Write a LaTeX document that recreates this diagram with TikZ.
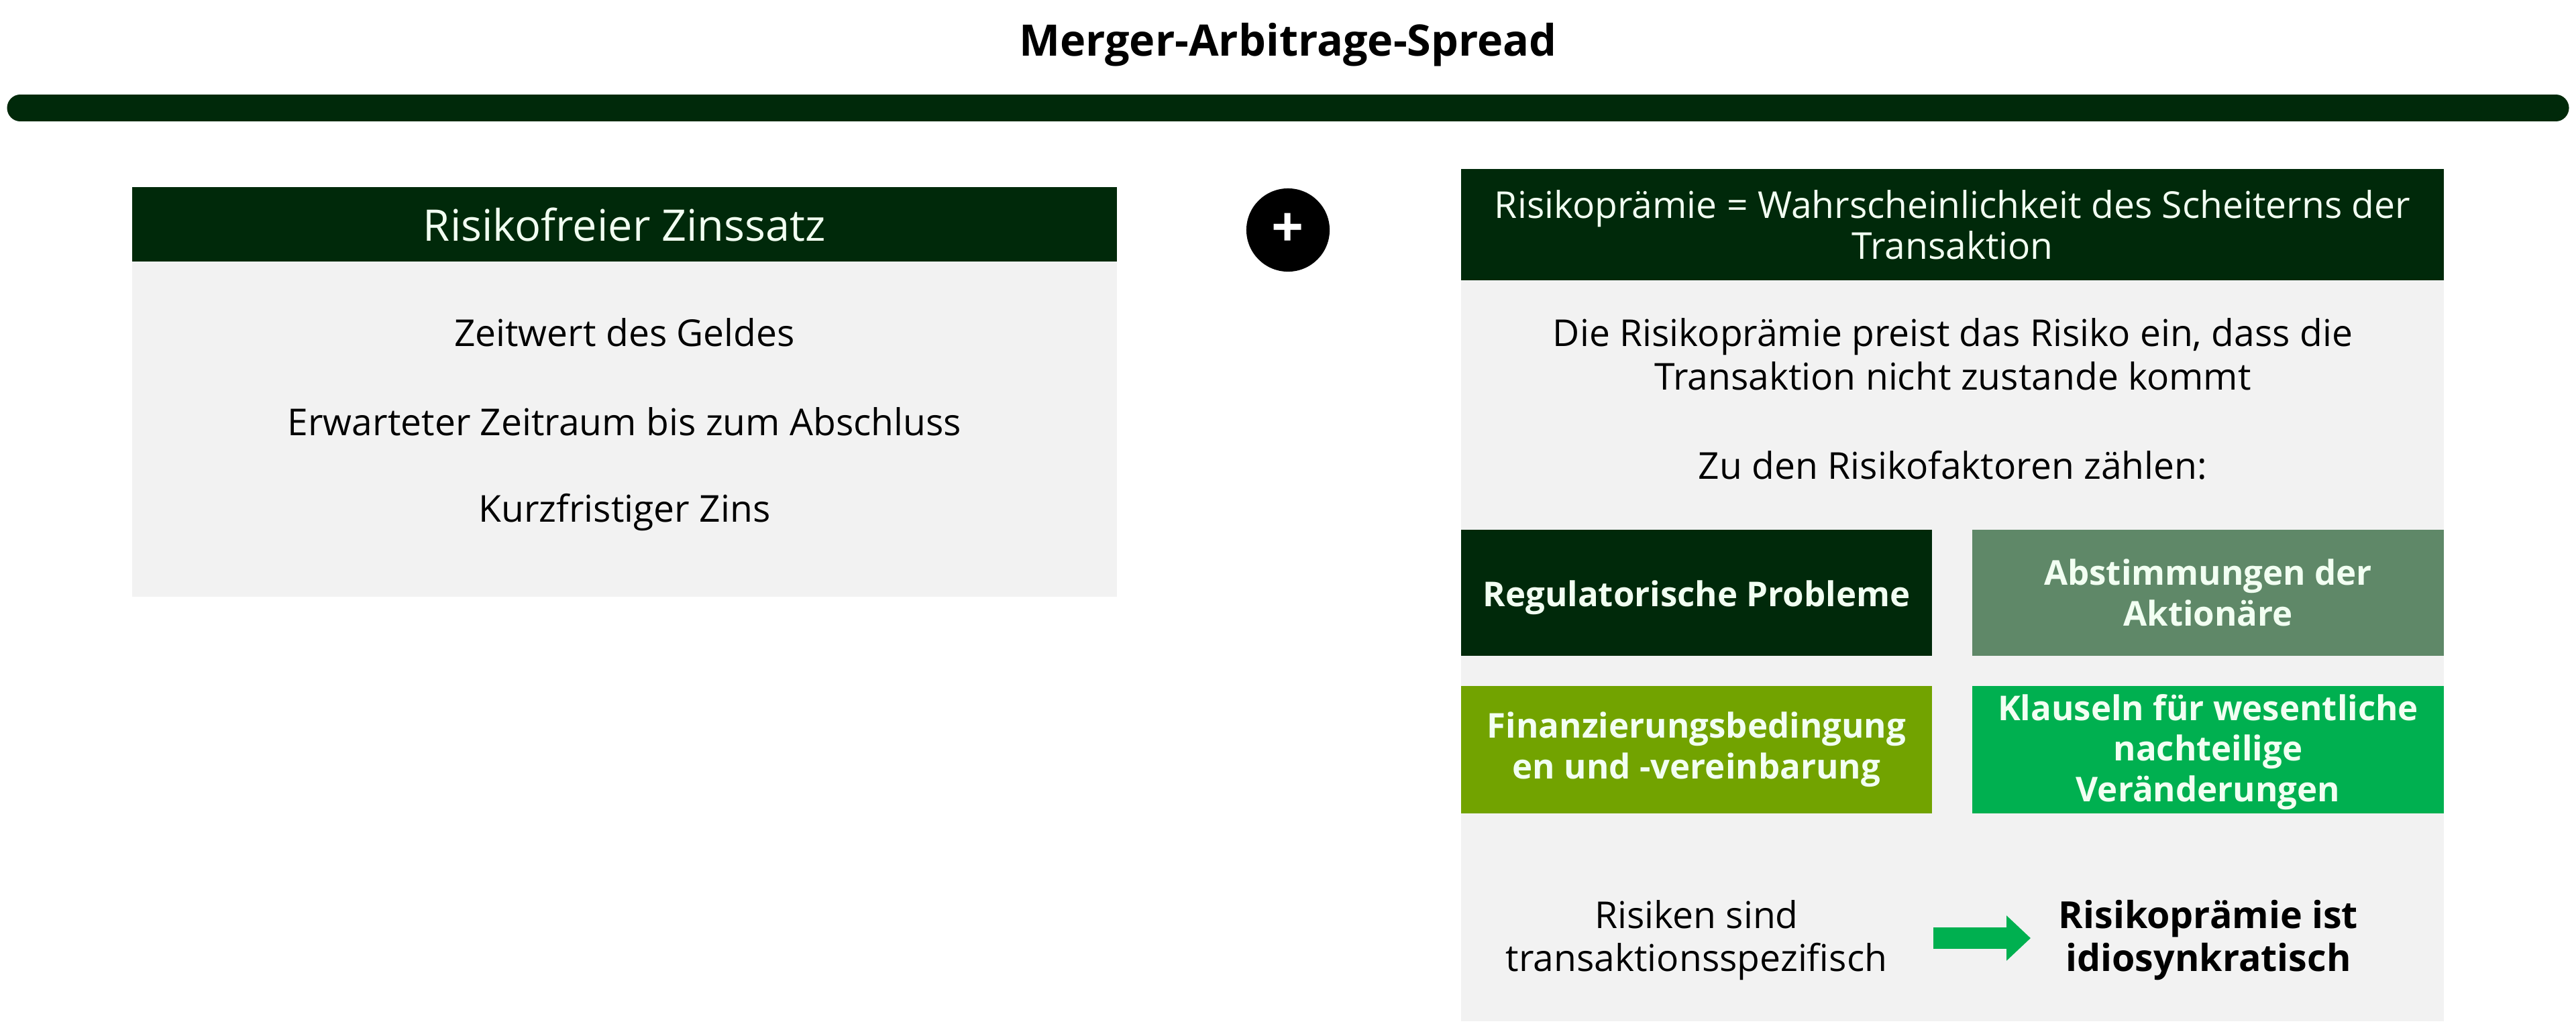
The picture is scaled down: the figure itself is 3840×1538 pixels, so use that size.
\documentclass[tikz,border=0pt]{standalone}
\usepackage{fontspec}
\setmainfont{Open Sans}
\usetikzlibrary{fit,arrows.meta}
\definecolor{dkgreen}{HTML}{00290A}
\definecolor{lgray}{HTML}{F2F2F2}
\definecolor{sage}{HTML}{5F8868}
\definecolor{olive}{HTML}{72A300}
\definecolor{brgreen}{HTML}{00B050}
\definecolor{mint}{HTML}{F2FFF2}
\tikzset{
  boxfill/.style={inner sep=0pt},
  txt/.style={font=\fontsize{15.7}{18.6}\selectfont, align=center, inner sep=0pt, text=black},
  fac/.style={inner sep=0pt, text=mint, font=\bfseries\fontsize{14.5}{17.3}\selectfont, align=center}
}
\begin{document}
\begin{tikzpicture}[x=0.01cm,y=-0.01cm]
\useasboundingbox (0,0) rectangle (3840,1538);
% title
\node[font=\bfseries\fontsize{18.4}{21}\selectfont, inner sep=0pt] (title) at (1920,67) {Merger-Arbitrage-Spread};
\coordinate (barL) at (30,161);
\coordinate (barR) at (3810,161);
\draw[dkgreen, line width=11.1pt, line cap=round] (barL) -- (barR);
% left column
\node[boxfill, fill=dkgreen, fit={(197,279)(1665,390)}] (lh) {};
\node[inner sep=0pt, text=mint, font=\fontsize{18.45}{22}\selectfont] (lht) at (lh.center) {Risikofreier Zinssatz};
\node[boxfill, fill=lgray, fit={(197,390)(1665,890)}] (lb) {};
\node[txt] (l1) at (931,496) {Zeitwert des Geldes};
\node[txt] (l2) at (931,629) {Erwarteter Zeitraum bis zum Abschluss};
\node[txt] (l3) at (931,764) {Kurzfristiger Zins};
% plus
\node[circle, fill=black, minimum size=35.3pt, inner sep=0pt, text=white, font=\bfseries\fontsize{24}{24}\selectfont] (plus) at (1920,343) {+};
% right column
\node[boxfill, fill=dkgreen, fit={(2178,252)(3643,418)}] (rh) {};
\node[inner sep=0pt, text=mint, align=center, font=\fontsize{15.7}{17.4}\selectfont] (rht) at (rh.center) {Risikoprämie = Wahrscheinlichkeit des Scheiterns der\\Transaktion};
\node[boxfill, fill=lgray, fit={(2178,418)(3643,1523)}] (rb) {};
\node[txt] (r1) at (2911,528) {Die Risikoprämie preist das Risiko ein, dass die\\Transaktion nicht zustande kommt};
\node[txt] (r2) at (2911,694) {Zu den Risikofaktoren zählen:};
\node[boxfill, fill=dkgreen, fit={(2178,790)(2880,978)}] (f1) {};
\node[boxfill, fill=sage, fit={(2940,790)(3643,978)}] (f2) {};
\node[boxfill, fill=olive, fit={(2178,1023)(2880,1213)}] (f3) {};
\node[boxfill, fill=brgreen, fit={(2940,1023)(3643,1213)}] (f4) {};
\node[fac] (f1t) at ([yshift=-2pt]f1.center) {Regulatorische Probleme};
\node[fac] (f2t) at (f2.center) {Abstimmungen der\\Aktionäre};
\node[fac] (f3t) at (f3.center) {Finanzierungsbedingung\\en und -vereinbarung};
\node[fac] (f4t) at ([yshift=-1pt]f4.center) {Klauseln für wesentliche\\nachteilige\\Veränderungen};
\node[txt, font=\fontsize{15.7}{18.3}\selectfont] (b1) at (2529,1402) {Risiken sind\\transaktionsspezifisch};
\node[txt, font=\bfseries\fontsize{15.8}{18.3}\selectfont] (b2) at (3292,1402) {Risikoprämie ist\\idiosynkratisch};
\coordinate (a1) at (2882,1399);
\coordinate (a2) at (3027,1399);
\draw[brgreen, line width=9.1pt, -{Triangle[length=10.2pt, width=18.5pt]}] (a1) -- (a2);
\end{tikzpicture}
\end{document}
